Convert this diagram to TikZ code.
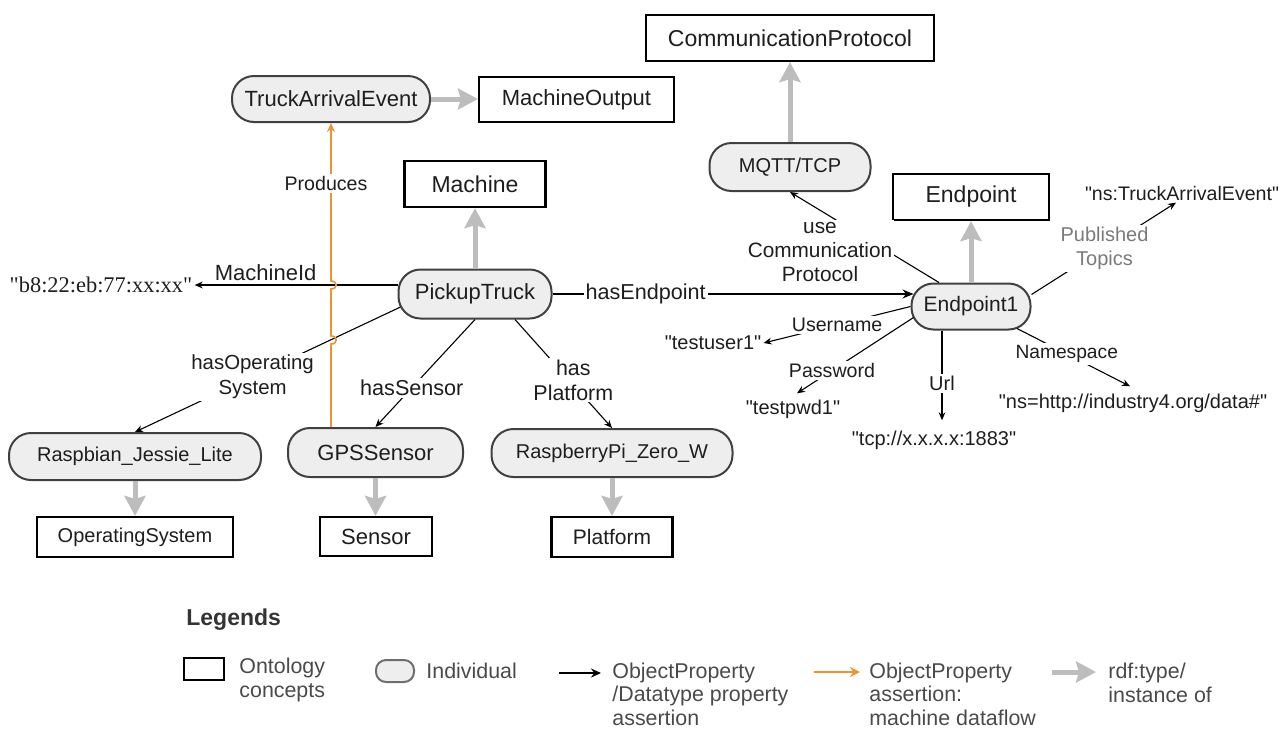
\documentclass[tikz,border=0pt]{standalone}
\usepackage{fontspec}
\setmainfont{Liberation Sans}[Ligatures=TeXOff]
\newfontfamily\seriffont{Liberation Serif}[Ligatures=TeXOff]
\usetikzlibrary{arrows.meta,calc}
\definecolor{flow}{HTML}{EE9331}
\definecolor{typeg}{HTML}{BDBDBD}
\definecolor{indfill}{HTML}{EEEEEE}
\definecolor{inddraw}{HTML}{404040}
\definecolor{txt}{HTML}{1E1E1E}
\definecolor{legtxt}{HTML}{4A4A4A}
\definecolor{topicg}{HTML}{7A7A7A}
% straight double quote
\newcommand\dq{\symbol{34}}

\tikzset{
  f96/.style={font=\fontsize{9.6pt}{12.2pt}\selectfont},
  f98/.style={font=\fontsize{9.8pt}{12.2pt}\selectfont},
  f10/.style={font=\fontsize{10pt}{12.2pt}\selectfont},
  f102/.style={font=\fontsize{10.2pt}{12.4pt}\selectfont},
  f104/.style={font=\fontsize{10.4pt}{12.1pt}\selectfont},
  f105/.style={font=\fontsize{10.5pt}{12.2pt}\selectfont},
  f107/.style={font=\fontsize{10.7pt}{12.2pt}\selectfont},
  f108/.style={font=\fontsize{10.8pt}{12.2pt}\selectfont},
  f11/.style={font=\fontsize{11pt}{12.2pt}\selectfont},
  f115/.style={font=\fontsize{11.5pt}{12.2pt}\selectfont},
  concept/.style={draw=black,line width=1.1pt,fill=white,inner sep=0pt,text=txt},
  indiv/.style={draw=inddraw,line width=1pt,fill=indfill,rounded corners=11pt,inner sep=0pt,text=txt},
  lbl/.style={fill=white,inner sep=1pt,text=txt,align=center},
  lit/.style={inner sep=1pt,text=txt},
  prop/.style={draw=black,line width=0.55pt,-{Stealth[length=4pt,width=3.4pt]}},
  typeof/.style={draw=typeg,line width=2.5pt,-{Stealth[length=10pt,width=10.5pt,inset=1.5pt]}},
  flowarrow/.style={draw=flow,line width=0.8pt,-{Stealth[length=4.5pt,width=4pt]}},
  legtext/.style={anchor=west,font=\fontsize{10.7pt}{11.8pt}\selectfont,text=legtxt,align=left,inner sep=0pt},
}

\begin{document}
\begin{tikzpicture}[x=0.5pt,y=-0.5pt]
\useasboundingbox (0,0) rectangle (1283,729);

% ontology concepts
\node[concept,minimum width=144pt,minimum height=23pt,f115]  (cp)   at (790,38)    {CommunicationProtocol};
\node[concept,minimum width=97.5pt,minimum height=22.5pt,f11] (mo)  at (576.5,99.5) {MachineOutput};
\node[concept,minimum width=70.5pt,minimum height=23pt,f115] (mach) at (475,184)   {Machine};
\node[concept,minimum width=78pt,minimum height=23pt,f115]   (endp) at (971,197)   {Endpoint};
\node[concept,minimum width=98pt,minimum height=20pt,f10]    (os)   at (135,537)   {OperatingSystem};
\node[concept,minimum width=56pt,minimum height=19.5pt,f11]  (sen)  at (376,536.5) {Sensor};
\node[concept,minimum width=60.5pt,minimum height=20pt,f105] (plat) at (612,537)   {Platform};

% individuals
\node[indiv,minimum width=99pt,minimum height=23pt,f11]     (tae)  at (331,99)    {TruckArrivalEvent};
\node[indiv,minimum width=80.5pt,minimum height=24pt,f10]   (mqtt) at (790,167)   {MQTT/TCP};
\node[indiv,minimum width=59.5pt,minimum height=23pt,f105]  (ep1)  at (971,306.5) {Endpoint1};
\node[indiv,minimum width=76.5pt,minimum height=24.5pt,f11] (pt)   at (475,294)   {PickupTruck};
\node[indiv,minimum width=126pt,minimum height=23.5pt,f10]  (ras)  at (135,456.5) {Raspbian\_Jessie\_Lite};
\node[indiv,minimum width=87.5pt,minimum height=24.5pt,f11] (gps)  at (375.5,452.5) {GPSSensor};
\node[indiv,minimum width=120.5pt,minimum height=24pt,f10]  (rpi)  at (612,453)   {RaspberryPi\_Zero\_W};

% literal values
\node[lit,font=\seriffont\fontsize{11.2pt}{13pt}\selectfont] (mid) at (101,285) {\dq b8:22:eb:77:xx:xx\dq};
\node[lit,f98] (nst) at (1182,193) {\dq ns:TruckArrivalEvent\dq};
\node[lit,f10] (tu1) at (713,343)  {\dq testuser1\dq};
\node[lit,f10] (tp1) at (793,409)  {\dq testpwd1\dq};
\node[lit,f10] (tcp) at (934,440)  {\dq tcp://x.x.x.x:1883\dq};
\node[lit,f10] (nsu) at (1133,403) {\dq ns=http://industry4.org/data\symbol{35}\dq};

% rdf:type links
\draw[typeof] (tae.east) -- (tae.east -| mo.west);
\draw[typeof] (mqtt.north) -- (mqtt.north |- cp.south);
\draw[typeof] (pt) -- (mach);
\draw[typeof] (ep1) -- (endp);
\draw[typeof] (ras) -- (os);
\draw[typeof] (gps) -- (gps |- sen.north);
\draw[typeof] (rpi) -- (plat);

% properties of the truck
\draw[prop] (pt.west |- mid.east) -- node[lit,f11,pos=0.65,above=1pt] {MachineId} (mid.east);
\draw[prop,line width=0.7pt,-{Stealth[length=5.5pt,width=4.5pt]},shorten >=-1.5pt]
  (pt.east) -- node[lbl,f108,pos=0.26] {hasEndpoint} (pt.east -| ep1.west);
\draw[prop] ([yshift=-6.5pt,xshift=1.5pt]pt.west) -- node[lbl,f102,pos=0.557] {hasOperating\\System} (ras.north);
\draw[prop] (pt.south) -- node[lbl,f108,pos=0.635] {hasSensor} (gps.north);
\draw[prop] ([xshift=20pt]pt.south) -- node[lbl,f107,pos=0.56,xshift=2pt] {has\\Platform} (rpi.north);

% properties of the endpoint
\draw[prop] ([xshift=-16pt]ep1.north) -- node[lbl,f104,xshift=-22.25pt,yshift=-7.5pt] {use\\Communication\\Protocol} (mqtt.south);
\draw[prop] ([yshift=6pt]ep1.east) -- node[lbl,f10,text=topicg,pos=0.505] {Published\\Topics} ([xshift=-3pt]nst.south);
\draw[prop] (ep1.west) -- node[lbl,f98,pos=0.5] {Username} (tu1.east);
\draw[prop] ([yshift=-5.5pt,xshift=1.5pt]ep1.west) -- node[lbl,f98,pos=0.7] {Password} ([xshift=2pt,yshift=2pt]tp1.north);
\draw[prop] ([xshift=-14.5pt]ep1.south) -- node[lbl,f10,pos=0.59] {Url} ([xshift=4pt,yshift=4pt]tcp.north);
\draw[prop] ([xshift=23pt,yshift=1pt]ep1.south) -- node[lbl,f96,pos=0.44] {Namespace} ([xshift=-1.5pt,yshift=2.5pt]nsu.north);

% machine dataflow, hopping over the crossing lines
\draw[flowarrow] ([xshift=-22.25pt]gps.north) -- (331,344)
  .. controls (338,344) and (338,336) .. (331,336) -- (331,289)
  .. controls (338,289) and (338,281) .. (331,281)
  -- node[lbl,f98,pos=0.616,xshift=-2.5pt] {Produces} (tae.south);

% legend
\node[anchor=west,inner sep=0pt,font=\bfseries\fontsize{11.5pt}{14pt}\selectfont,text=legtxt!70!black] (legtitle) at (186,620) {Legends};
\node[concept,minimum width=20pt,minimum height=11pt] (lgc) at (204,669) {};
\node[legtext] (lgct) at (239,680) {Ontology\\[0.5pt]concepts};
\node[indiv,minimum width=19pt,minimum height=11pt,rounded corners=5pt,draw=legtxt!80] (lgi) at (395,671) {};
\node[legtext] (lgit) at (426,671) {Individual};
\coordinate (lga1) at (559,673);
\coordinate (lga2) at (601,673);
\draw[prop,line width=0.7pt,-{Stealth[length=5pt,width=4.5pt]}] (lga1) -- (lga2);
\node[legtext] (lgpt) at (612,694) {ObjectProperty\\/Datatype property\\assertion};
\coordinate (lgo1) at (814,672);
\coordinate (lgo2) at (860,672);
\draw[flowarrow,line width=1.1pt,-{Stealth[length=5pt,width=5pt]}] (lgo1) -- (lgo2);
\node[legtext] (lgot) at (869,694) {ObjectProperty\\assertion:\\machine dataflow};
\coordinate (lgg1) at (1052,672);
\coordinate (lgg2) at (1096,672);
\draw[typeof] (lgg1) -- (lgg2);
\node[legtext] (lggt) at (1108,683) {rdf:type/\\instance of};
\end{tikzpicture}
\end{document}
